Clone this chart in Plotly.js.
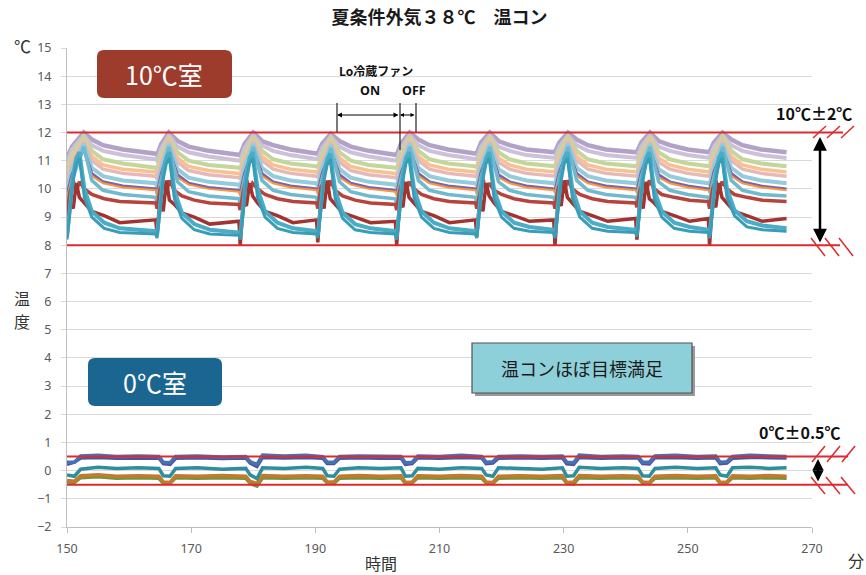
<!DOCTYPE html>
<html>
<head>
<meta charset="utf-8">
<script src="https://cdn.plot.ly/plotly-3.0.1.min.js"></script>
<style>html,body{margin:0;padding:0;background:#fff;}#chart{width:866px;height:575px;}</style>
</head>
<body>
<div id="chart"></div>
<script>
// ---------- DATA ----------
const titleText = '夏条件外気３８℃　温コン';
const xTicks = [150, 170, 190, 210, 230, 250, 270];

// 10℃ room: time points (minutes), coarse
const tHot = [
 150.0,150.8,152.7,154.0,155.8,159.0,164.3,
 164.5,165.2,166.4,167.8,169.6,172.8,177.7,
 177.9,178.6,180.0,181.4,183.2,186.0,190.2,
 190.4,191.1,192.5,193.9,195.7,198.6,202.9,
 203.1,203.8,205.2,206.6,208.4,211.4,215.8,
 216.0,216.7,218.1,219.5,221.3,224.0,228.4,
 228.6,229.3,230.7,232.1,233.9,236.8,241.6,
 241.8,242.5,243.9,245.3,247.1,250.0,253.3,
 253.5,254.2,255.6,257.0,258.8,261.8,265.9];

// 10℃ room: time points (minutes), fine (red / teal sensors)
const tFine = [
 150.0,150.5,151.0,151.5,152.0,152.8,154.0,156.0,158.5,164.3,
 164.5,165.0,165.5,166.0,166.5,167.3,168.5,170.5,173.0,177.7,
 177.9,178.4,178.9,179.4,179.9,180.7,181.9,183.9,186.4,190.2,
 190.4,190.9,191.4,191.9,192.4,193.2,194.4,196.4,198.9,202.9,
 203.1,203.6,204.1,204.6,205.1,205.9,207.1,209.1,211.6,215.8,
 216.0,216.5,217.0,217.5,218.0,218.8,220.0,222.0,224.5,228.4,
 228.6,229.1,229.6,230.1,230.6,231.4,232.6,234.6,237.1,241.6,
 241.8,242.3,242.8,243.3,243.8,244.6,245.8,247.8,250.3,253.3,
 253.5,254.0,254.5,255.0,255.5,256.3,257.5,259.5,262.0,265.9];

const hotLavender = [
 11.1,11.5,12.0,11.75,11.55,11.4,11.25,
 11.2,11.6,12.0,11.7,11.5,11.35,11.2,
 11.2,11.6,12.0,11.7,11.55,11.4,11.25,
 11.25,11.6,11.95,11.7,11.5,11.35,11.2,
 11.2,11.6,12.0,11.75,11.55,11.4,11.25,
 11.25,11.65,12.0,11.7,11.55,11.4,11.3,
 11.3,11.65,12.0,11.75,11.55,11.4,11.3,
 11.3,11.65,12.0,11.7,11.55,11.4,11.3,
 11.3,11.65,12.0,11.75,11.55,11.4,11.3];
const hotGrayLav = [
 10.9,11.4,11.9,11.55,11.35,11.2,11.05,
 11.0,11.45,11.9,11.5,11.3,11.15,11.0,
 11.0,11.45,11.9,11.55,11.35,11.2,11.05,
 11.05,11.45,11.85,11.5,11.3,11.15,11.0,
 11.0,11.45,11.9,11.55,11.35,11.2,11.05,
 11.05,11.5,11.9,11.5,11.35,11.2,11.1,
 11.1,11.5,11.9,11.55,11.35,11.2,11.1,
 11.1,11.5,11.9,11.5,11.35,11.2,11.1,
 11.1,11.5,11.9,11.55,11.35,11.2,11.1];
const hotGreen = [
 10.6,11.2,11.85,11.35,11.05,10.9,10.75,
 10.7,11.25,11.85,11.3,11.0,10.85,10.75,
 10.7,11.25,11.85,11.35,11.05,10.9,10.8,
 10.75,11.25,11.8,11.3,11.0,10.85,10.75,
 10.7,11.25,11.85,11.35,11.05,10.9,10.8,
 10.75,11.3,11.85,11.3,11.05,10.9,10.8,
 10.8,11.3,11.85,11.35,11.05,10.9,10.8,
 10.8,11.3,11.85,11.3,11.05,10.9,10.8,
 10.8,11.3,11.85,11.35,11.05,10.9,10.8];
const hotPeach = [
 10.4,11.0,11.75,11.15,10.85,10.7,10.6,
 10.5,11.05,11.75,11.1,10.8,10.65,10.55,
 10.5,11.05,11.75,11.15,10.85,10.7,10.6,
 10.55,11.05,11.7,11.1,10.8,10.65,10.55,
 10.5,11.05,11.75,11.15,10.85,10.7,10.6,
 10.55,11.1,11.75,11.1,10.85,10.7,10.6,
 10.6,11.1,11.75,11.15,10.85,10.7,10.6,
 10.6,11.1,11.75,11.1,10.85,10.7,10.6,
 10.6,11.1,11.75,11.15,10.85,10.7,10.6];
const hotPink = [
 10.3,10.9,11.7,11.0,10.7,10.55,10.45,
 10.35,10.95,11.7,10.95,10.65,10.5,10.4,
 10.35,10.95,11.7,11.0,10.7,10.55,10.45,
 10.4,10.95,11.65,10.95,10.65,10.5,10.4,
 10.35,10.95,11.7,11.0,10.7,10.55,10.45,
 10.4,11.0,11.7,10.95,10.7,10.55,10.45,
 10.45,11.0,11.7,11.0,10.7,10.55,10.45,
 10.45,11.0,11.7,10.95,10.7,10.55,10.45,
 10.45,11.0,11.7,11.0,10.7,10.55,10.45];
const hotLightBlue = [
 10.0,10.7,11.6,10.75,10.45,10.3,10.2,
 10.05,10.75,11.6,10.7,10.4,10.25,10.15,
 10.05,10.75,11.6,10.75,10.45,10.3,10.2,
 10.1,10.75,11.55,10.7,10.4,10.25,10.15,
 10.05,10.75,11.6,10.75,10.45,10.3,10.2,
 10.1,10.8,11.6,10.7,10.45,10.3,10.2,
 10.15,10.8,11.6,10.75,10.45,10.3,10.2,
 10.15,10.8,11.6,10.7,10.45,10.3,10.2,
 10.15,10.8,11.6,10.75,10.45,10.3,10.2];
const hotPurple = [
 9.8,10.5,11.4,10.55,10.25,10.1,10.0,
 9.85,10.55,11.4,10.5,10.2,10.05,9.95,
 9.85,10.55,11.4,10.55,10.25,10.1,10.0,
 9.9,10.55,11.35,10.5,10.2,10.05,9.95,
 9.85,10.55,11.4,10.55,10.25,10.1,10.0,
 9.9,10.6,11.4,10.5,10.25,10.1,10.0,
 9.95,10.6,11.4,10.55,10.25,10.1,10.0,
 9.95,10.6,11.4,10.5,10.25,10.1,10.0,
 9.95,10.6,11.4,10.55,10.25,10.1,10.0];
const hotOrange = [
 9.7,10.4,11.45,10.45,10.2,10.05,9.95,
 9.75,10.45,11.45,10.4,10.15,10.0,9.9,
 9.75,10.45,11.45,10.45,10.2,10.05,9.95,
 9.8,10.45,11.4,10.4,10.15,10.0,9.9,
 9.75,10.45,11.45,10.45,10.2,10.05,9.95,
 9.8,10.5,11.45,10.4,10.2,10.05,9.95,
 9.85,10.5,11.45,10.45,10.2,10.05,9.95,
 9.85,10.5,11.45,10.4,10.2,10.05,9.95,
 9.85,10.5,11.45,10.45,10.2,10.05,9.95];
const hotTealLight = [
 9.4,10.3,11.5,10.3,9.95,9.8,9.7,
 9.45,10.35,11.5,10.25,9.9,9.75,9.65,
 9.45,10.35,11.5,10.3,9.95,9.8,9.7,
 9.5,10.35,11.45,10.25,9.9,9.75,9.65,
 9.45,10.35,11.5,10.3,9.95,9.8,9.7,
 9.5,10.4,11.5,10.25,9.95,9.8,9.7,
 9.55,10.4,11.5,10.3,9.95,9.8,9.7,
 9.55,10.4,11.5,10.25,9.95,9.8,9.7,
 9.55,10.4,11.5,10.3,9.95,9.8,9.75];
// fine-resolution sensors (tFine)
const hotRedUpper = [
 9.2,9.9,10.3,9.9,10.25,10.0,9.8,9.65,9.55,9.5,
 9.3,10.0,10.2,9.85,10.3,9.95,9.75,9.6,9.5,9.45,
 9.25,9.9,10.35,9.9,10.2,10.0,9.8,9.65,9.55,9.5,
 9.3,10.05,10.25,9.85,10.3,9.95,9.75,9.6,9.5,9.45,
 9.25,9.95,10.3,9.9,10.25,10.0,9.8,9.65,9.55,9.5,
 9.3,9.9,10.35,9.95,10.2,9.95,9.8,9.65,9.55,9.5,
 9.3,10.0,10.3,9.9,10.3,10.0,9.8,9.65,9.55,9.5,
 9.35,9.95,10.25,9.9,10.3,10.0,9.8,9.7,9.6,9.55,
 9.3,10.0,10.3,9.95,10.25,10.0,9.8,9.7,9.6,9.55];
const hotRedLower = [
 8.8,9.6,9.3,10.2,9.7,9.5,9.2,9.05,8.8,8.9,
 8.4,9.7,9.2,10.3,9.6,9.45,9.15,9.0,8.75,8.85,
 8.0,9.5,9.4,10.2,9.75,9.5,9.2,9.05,8.8,8.9,
 8.1,9.7,9.3,10.3,9.65,9.45,9.15,9.0,8.8,8.85,
 8.0,9.6,9.35,10.25,9.7,9.5,9.2,9.05,8.8,8.9,
 8.3,9.7,9.2,10.2,9.75,9.5,9.2,9.05,8.85,8.9,
 8.0,9.6,9.4,10.3,9.7,9.5,9.2,9.05,8.85,8.95,
 8.2,9.7,9.3,10.25,9.65,9.5,9.2,9.05,8.85,8.95,
 8.0,9.6,9.35,10.2,9.7,9.5,9.2,9.05,8.85,8.95];
const hotTeal = [
 8.3,9.4,10.5,11.1,11.3,10.0,9.2,8.8,8.6,8.5,
 8.35,9.45,10.55,11.1,11.3,9.95,9.15,8.75,8.55,8.45,
 8.3,9.4,10.5,11.1,11.3,10.0,9.2,8.8,8.6,8.5,
 8.35,9.45,10.5,11.05,11.25,9.95,9.15,8.75,8.6,8.5,
 8.3,9.4,10.5,11.1,11.3,10.0,9.2,8.8,8.6,8.5,
 8.35,9.5,10.55,11.1,11.3,9.95,9.2,8.8,8.65,8.55,
 8.35,9.45,10.5,11.1,11.3,10.0,9.2,8.8,8.65,8.55,
 8.4,9.5,10.55,11.1,11.3,9.95,9.2,8.8,8.65,8.55,
 8.35,9.45,10.5,11.1,11.3,10.0,9.25,8.85,8.7,8.6];
const hotTealDark = [
 8.2,9.2,10.3,10.9,11.1,9.7,9.0,8.6,8.45,8.4,
 8.25,9.25,10.35,10.9,11.1,9.65,8.95,8.55,8.4,8.35,
 8.2,9.2,10.3,10.9,11.1,9.7,9.0,8.6,8.45,8.4,
 8.25,9.25,10.3,10.85,11.05,9.65,8.95,8.55,8.45,8.4,
 8.2,9.2,10.3,10.9,11.1,9.7,9.0,8.6,8.45,8.4,
 8.25,9.3,10.35,10.9,11.1,9.65,9.0,8.6,8.5,8.45,
 8.25,9.25,10.3,10.9,11.1,9.7,9.0,8.6,8.5,8.45,
 8.3,9.3,10.35,10.9,11.1,9.65,9.0,8.6,8.5,8.45,
 8.25,9.25,10.3,10.9,11.1,9.7,9.05,8.65,8.55,8.5];

// 0℃ room: time points (minutes)
const tCold = [
 150.0,151.2,152.2,155.0,158.0,161.5,164.8,
 165.5,166.6,167.5,171.0,175.0,178.8,
 179.5,180.6,181.5,185.0,188.5,191.2,
 191.9,193.0,193.9,197.0,200.5,203.8,
 204.5,205.6,206.5,210.0,213.5,216.8,
 217.5,218.6,219.5,223.0,226.5,229.8,
 230.5,231.6,232.5,236.0,239.5,242.0,
 242.7,243.8,244.7,248.0,251.5,254.5,
 255.2,256.3,257.2,260.0,263.0,265.9];
const coldBlue = [
 0.3,0.3,0.52,0.55,0.5,0.52,0.5,
 0.3,0.28,0.5,0.52,0.48,0.5,
 0.32,0.22,0.55,0.52,0.55,0.5,
 0.3,0.3,0.5,0.52,0.5,0.5,
 0.28,0.3,0.52,0.5,0.55,0.5,
 0.3,0.32,0.5,0.52,0.5,0.52,
 0.3,0.28,0.55,0.5,0.52,0.5,
 0.3,0.3,0.52,0.55,0.5,0.52,
 0.3,0.32,0.5,0.55,0.52,0.5];
const coldNavy = [
 0.22,0.3,0.45,0.47,0.44,0.46,0.45,
 0.25,0.22,0.44,0.46,0.43,0.45,
 0.27,0.15,0.47,0.45,0.47,0.44,
 0.25,0.25,0.44,0.46,0.44,0.45,
 0.22,0.25,0.46,0.44,0.47,0.45,
 0.25,0.27,0.44,0.46,0.44,0.46,
 0.24,0.22,0.47,0.44,0.46,0.45,
 0.25,0.24,0.46,0.47,0.44,0.46,
 0.25,0.27,0.44,0.47,0.46,0.45];
const coldTeal = [
 -0.15,-0.2,0.05,0.12,0.08,0.1,0.08,
 -0.18,-0.2,0.08,0.1,0.05,0.08,
 -0.15,-0.28,0.1,0.08,0.12,0.08,
 -0.18,-0.2,0.05,0.1,0.08,0.1,
 -0.2,-0.18,0.08,0.05,0.1,0.08,
 -0.15,-0.2,0.1,0.08,0.05,0.1,
 -0.2,-0.18,0.12,0.08,0.1,0.08,
 -0.18,-0.2,0.08,0.12,0.08,0.1,
 -0.15,-0.2,0.1,0.12,0.08,0.1];
const coldOlive = [
 -0.4,-0.42,-0.25,-0.22,-0.27,-0.25,-0.27,
 -0.45,-0.45,-0.25,-0.27,-0.25,-0.27,
 -0.45,-0.55,-0.25,-0.27,-0.25,-0.27,
 -0.43,-0.45,-0.27,-0.25,-0.27,-0.25,
 -0.45,-0.43,-0.25,-0.27,-0.25,-0.27,
 -0.43,-0.45,-0.27,-0.25,-0.27,-0.25,
 -0.45,-0.47,-0.25,-0.27,-0.25,-0.27,
 -0.43,-0.45,-0.27,-0.25,-0.27,-0.25,
 -0.45,-0.43,-0.25,-0.27,-0.25,-0.27];
const coldOrange = [
 -0.35,-0.38,-0.18,-0.15,-0.2,-0.18,-0.2,
 -0.4,-0.42,-0.18,-0.2,-0.17,-0.2,
 -0.38,-0.45,-0.17,-0.2,-0.18,-0.2,
 -0.4,-0.4,-0.2,-0.17,-0.2,-0.18,
 -0.42,-0.4,-0.18,-0.2,-0.17,-0.2,
 -0.4,-0.42,-0.2,-0.18,-0.2,-0.17,
 -0.42,-0.4,-0.17,-0.2,-0.18,-0.2,
 -0.4,-0.42,-0.2,-0.17,-0.2,-0.18,
 -0.42,-0.4,-0.18,-0.2,-0.17,-0.2];

const targetHot = [8, 12];
const targetCold = [-0.5, 0.5];

// ---------- LAYOUT HELPERS ----------
const L = 67, R = 812, T = 48, B = 527;
const px = x => (x - L) / (R - L);
const py = y => (B - y) / (B - T);
const JP = '"Noto Sans CJK JP", "Noto Sans", sans-serif';
const NUM = '"Noto Sans", "DejaVu Sans", sans-serif';

function rrPath(x0, y0, x1, y1, r) {
  const P = (x, y) => px(x).toFixed(5) + ',' + py(y).toFixed(5);
  return 'M' + P(x0 + r, y0) + ' L' + P(x1 - r, y0) + ' Q' + P(x1, y0) + ' ' + P(x1, y0 + r) +
    ' L' + P(x1, y1 - r) + ' Q' + P(x1, y1) + ' ' + P(x1 - r, y1) +
    ' L' + P(x0 + r, y1) + ' Q' + P(x0, y1) + ' ' + P(x0, y1 - r) +
    ' L' + P(x0, y0 + r) + ' Q' + P(x0, y0) + ' ' + P(x0 + r, y0) + ' Z';
}

// ---------- TRACES ----------
function hot(y, color, w, t) {
  return {x: t || tHot, y: y, type: 'scatter', mode: 'lines', line: {color: color, width: w || 3}, hoverinfo: 'skip'};
}
function cold(y, color) {
  return {x: tCold, y: y, type: 'scatter', mode: 'lines', line: {color: color, width: 3.5}, hoverinfo: 'skip'};
}
const traces = [
  hot(hotLavender, '#b3a2c7', 4.5),
  hot(hotGrayLav, '#ccc0da', 4),
  hot(hotGreen, '#c3d69b', 4),
  hot(hotPeach, '#fac090', 3.5),
  hot(hotPink, '#e6b9b8', 3.5),
  hot(hotLightBlue, '#93cddd', 4),
  hot(hotPurple, '#8064a2', 3),
  hot(hotOrange, '#f79646', 2),
  hot(hotTealLight, '#6fbad0', 3.5),
  hot(hotRedUpper, '#b8433c', 3.5, tFine),
  hot(hotRedLower, '#a3332e', 3.5, tFine),
  hot(hotTeal, '#4bacc6', 4, tFine),
  hot(hotTealDark, '#3a9db8', 3, tFine),
  cold(coldOlive, '#77933c'),
  cold(coldOrange, '#c47a2c'),
  cold(coldTeal, '#2f8e9c'),
  cold(coldNavy, '#55509c'),
  cold(coldBlue, '#4472b4')
];

// ---------- SHAPES ----------
const red = '#dc2a2e';
const shapes = [];
shapes.push({type: 'line', xref: 'paper', yref: 'y', x0: 0, x1: px(843), y0: targetHot[1], y1: targetHot[1], line: {color: red, width: 2}, layer: 'above'});
shapes.push({type: 'line', xref: 'paper', yref: 'y', x0: 0, x1: px(840), y0: targetHot[0], y1: targetHot[0], line: {color: red, width: 2}, layer: 'above'});
shapes.push({type: 'line', xref: 'paper', yref: 'y', x0: 0, x1: px(848), y0: targetCold[1], y1: targetCold[1], line: {color: red, width: 2}, layer: 'above'});
shapes.push({type: 'line', xref: 'paper', yref: 'y', x0: 0, x1: px(848), y0: targetCold[0], y1: targetCold[0], line: {color: red, width: 2}, layer: 'above'});
function slash(x0, y0, x1, y1) {
  shapes.push({type: 'line', xref: 'paper', yref: 'paper', x0: px(x0), y0: py(y0), x1: px(x1), y1: py(y1), line: {color: red, width: 1.5}, layer: 'above'});
}
[813, 827, 841].forEach(x => slash(x, 138, x + 13, 126));
[811, 825, 839].forEach(x => slash(x, 238, x + 14, 256));
[812, 827, 842].forEach(x => slash(x, 462, x + 13, 446));
[811, 826, 841].forEach(x => slash(x, 477, x + 14, 494));
[[337, 103, 132], [400, 103, 150], [416, 103, 132]].forEach(v => {
  shapes.push({type: 'line', xref: 'paper', yref: 'paper', x0: px(v[0]), x1: px(v[0]), y0: py(v[1]), y1: py(v[2]), line: {color: '#222', width: 1.2}, layer: 'above'});
});
shapes.push({type: 'path', xref: 'paper', yref: 'paper', path: rrPath(97, 50, 232, 98, 7), fillcolor: '#9d3b2d', line: {width: 0}, layer: 'above'});
shapes.push({type: 'path', xref: 'paper', yref: 'paper', path: rrPath(88, 358, 222, 406, 7), fillcolor: '#1b6591', line: {width: 0}, layer: 'above'});
shapes.push({type: 'rect', xref: 'paper', yref: 'paper', x0: px(475), x1: px(695), y0: py(346), y1: py(396), fillcolor: '#9a9a9a', line: {width: 0}, layer: 'above'});
shapes.push({type: 'rect', xref: 'paper', yref: 'paper', x0: px(472), x1: px(692), y0: py(343), y1: py(393), fillcolor: '#8ed0da', line: {color: '#505050', width: 1.2}, layer: 'above'});

// ---------- ANNOTATIONS ----------
function txt(x, y, text, size, color, bold, family) {
  return {xref: 'paper', yref: 'paper', x: px(x), y: py(y), text: text, showarrow: false,
    xanchor: 'center', yanchor: 'middle',
    font: {size: size, color: color, family: family || JP, weight: bold ? 'bold' : 'normal'}};
}
function dblArrow(x, y, ax, ay, width, size) {
  return {xref: 'paper', yref: 'paper', x: px(x), y: py(y), ax: ax, ay: ay, text: '', showarrow: true,
    arrowhead: 2, arrowside: 'end+start', arrowwidth: width, arrowsize: size, arrowcolor: '#000'};
}
const annotations = [
  txt(22, 45, '℃', 17, '#333'),
  txt(22, 298, '温', 16, '#333'),
  txt(22, 321, '度', 16, '#333'),
  txt(381, 563, '時間', 16, '#333'),
  txt(856, 560, '分', 16, '#333'),
  txt(164, 74, '10℃室', 25, '#ffffff'),
  txt(155, 382, '0℃室', 25, '#ffffff'),
  txt(582, 368, '温コンほぼ目標満足', 18, '#1a1a1a'),
  txt(814, 113, '10℃±2℃', 16, '#111', true),
  txt(800, 432, '0℃±0.5℃', 16, '#111', true),
  txt(376, 71, 'Lo冷蔵ファン', 12, '#111', true),
  txt(370, 91, 'ON', 12.5, '#111', true, NUM),
  txt(414, 91, 'OFF', 12.5, '#111', true, NUM),
  dblArrow(337, 115, 63, 0, 1, 1),
  dblArrow(400, 115, 16, 0, 1, 0.8),
  dblArrow(820, 137, 0, 107, 2.5, 1.1),
  dblArrow(818, 459, 0, 24, 2.5, 0.9)
];

const layout = {
  width: 866, height: 575,
  margin: {l: L, r: 866 - R, t: T, b: 575 - B},
  paper_bgcolor: '#ffffff', plot_bgcolor: '#ffffff',
  showlegend: false,
  title: {text: titleText, x: 0.5, xref: 'paper', xanchor: 'center', y: 1 - 18 / 575, yref: 'container', yanchor: 'middle',
    font: {family: JP, size: 18, color: '#1a1a1a', weight: 'bold'}},
  xaxis: {range: [150, 270], tickvals: xTicks, ticktext: xTicks.map(String), showgrid: false, zeroline: false,
    showline: true, linecolor: '#bfbfbf', linewidth: 1, ticks: 'outside', ticklen: 5, tickcolor: '#bfbfbf',
    ticklabelstandoff: 5, tickfont: {family: NUM, size: 12.5, color: '#595959'}},
  yaxis: {range: [-2, 15], dtick: 1, tick0: 0, showgrid: true, gridcolor: '#d9d9d9', gridwidth: 1, zeroline: false,
    showline: true, linecolor: '#bfbfbf', linewidth: 1, ticks: 'outside', ticklen: 5, tickcolor: '#d9d9d9',
    ticklabelstandoff: 7, tickfont: {family: NUM, size: 12.5, color: '#595959'}},
  shapes: shapes,
  annotations: annotations
};

Plotly.newPlot('chart', traces, layout, {staticPlot: true, displayModeBar: false});
</script>
</body>
</html>
